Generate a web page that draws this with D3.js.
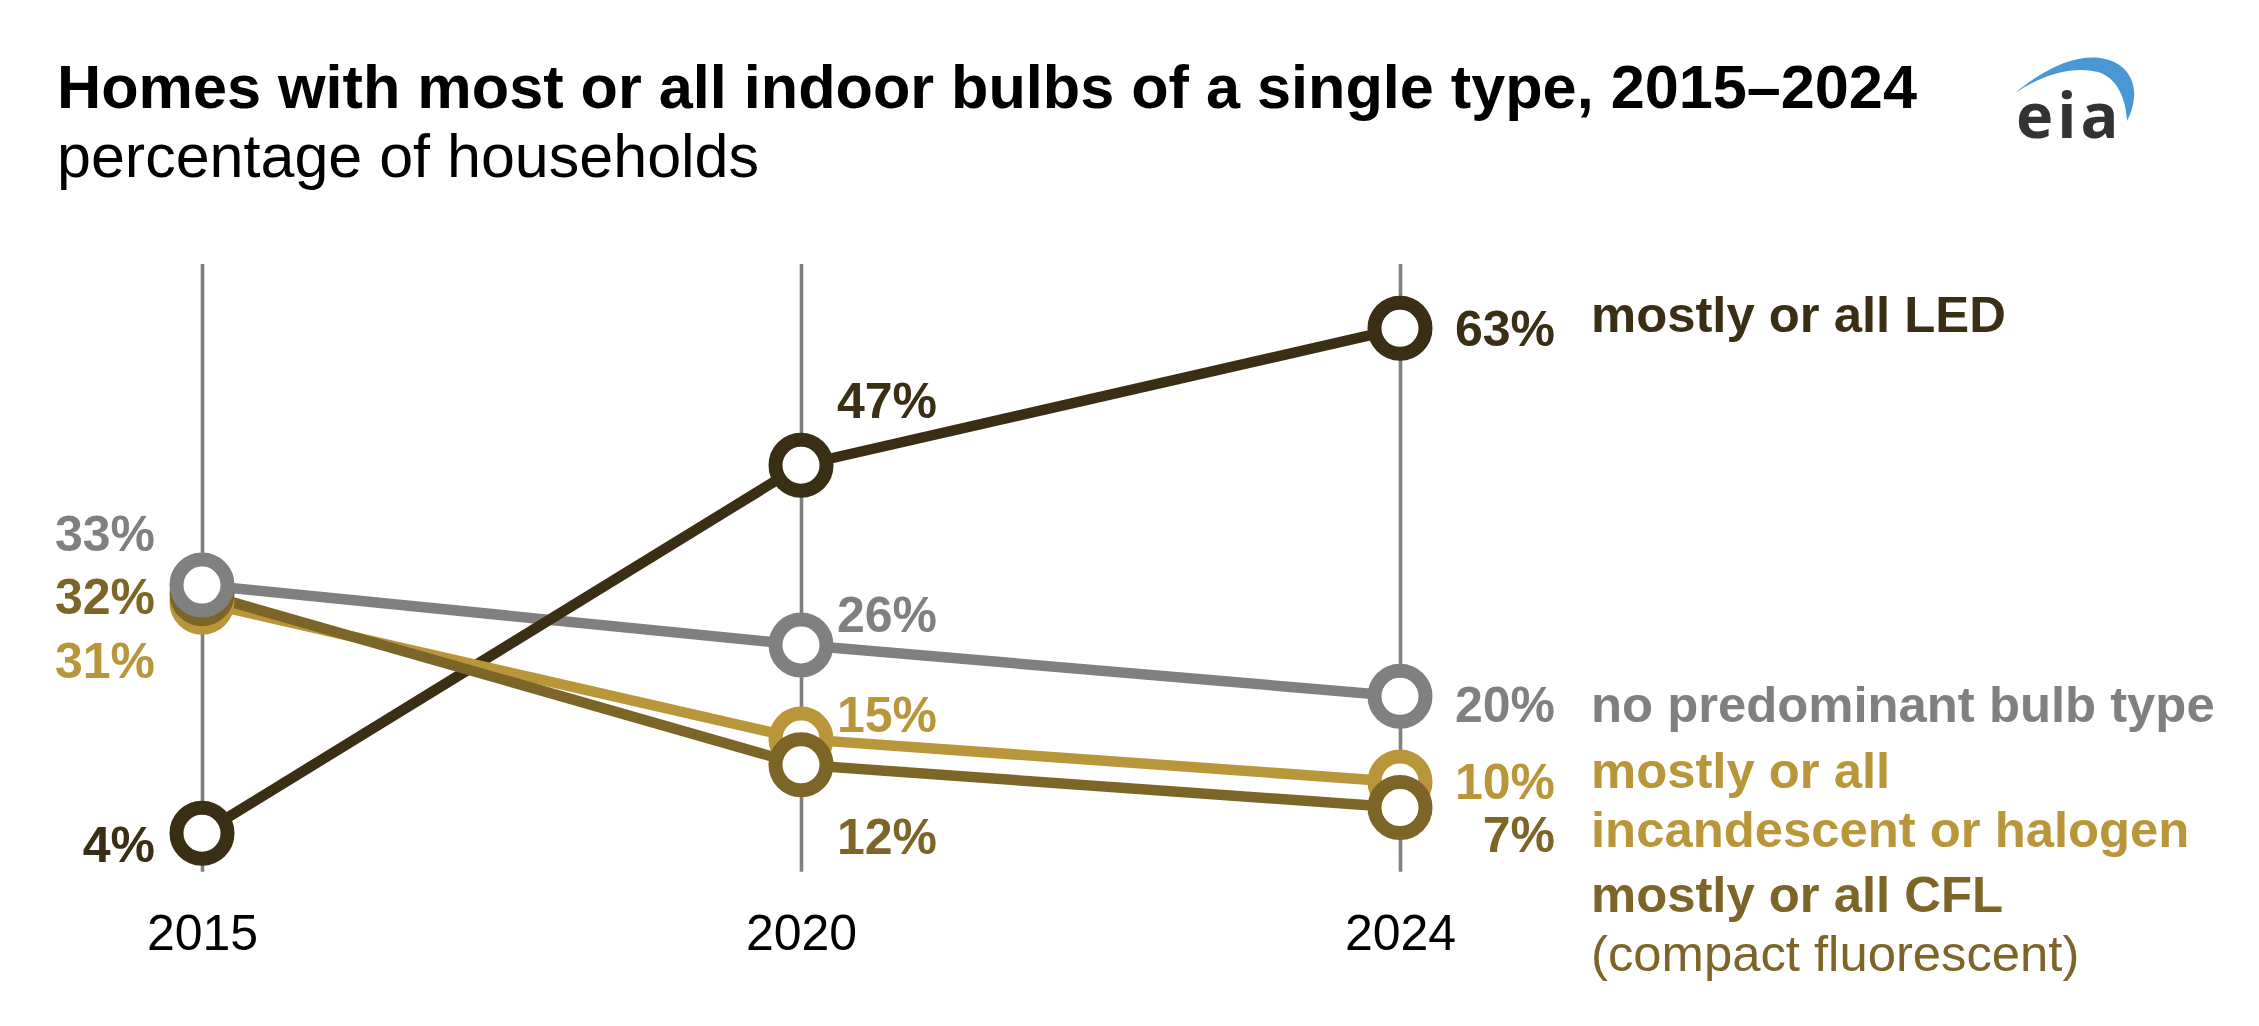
<!DOCTYPE html>
<html>
<head>
<meta charset="utf-8">
<script src="https://cdn.jsdelivr.net/npm/d3@7/dist/d3.min.js"></script>
<style>
    html, body { margin: 0; padding: 0; background: #ffffff; }
    svg { display: block; font-family: "Liberation Sans", Arial, Helvetica, sans-serif; }
</style>
</head>
<body>
<div id="chart"></div>
<script>

// data
const years = ['2015', '2020', '2024'];
const ledValues = [4, 47, 63];
const noPredominantValues = [33, 26, 20];
const incandescentValues = [31, 15, 10];
const cflValues = [32, 12, 7];

const ledLegend = ['mostly or all LED'];
const noPredominantLegend = ['no predominant bulb type'];
const incandescentLegend = ['mostly or all', 'incandescent or halogen'];
const cflLegend = ['mostly or all CFL', '(compact fluorescent)'];

const titleText = 'Homes with most or all indoor bulbs of a single type, 2015\u20132024';
const subtitleText = 'percentage of households';

class BulbTypeChartModel {

    constructor(selector) {

        this.$parent = d3.select(selector);

        this.svgWidth = 2259;
        this.svgHeight = 1026;
        this.fontSize = 50;

        this.series = [
            { key: 'gray', values: noPredominantValues, legend: noPredominantLegend, color: '#808080' },
            { key: 'led', values: ledValues, legend: ledLegend, color: '#3a2e14' },
            { key: 'gold', values: incandescentValues, legend: incandescentLegend, color: '#b9963a' },
            { key: 'cfl', values: cflValues, legend: cflLegend, color: '#7d6427' }
        ];

        // baseline offsets of the value labels from their point, per year
        this.valueLabelOffsets = {
            gray: [-34, -13, 25.5],
            led: [28.5, -47.5, 17.5],
            gold: [76, -7.5, 17],
            cfl: [20, 89.5, 44.5]
        };

        // baseline offsets of legend lines from the last point
        this.legendOffsets = {
            gray: [25.5],
            led: [3.5],
            gold: [6, 65.5],
            cfl: [104.5, 163]
        };

        this.resize();
        this.draw();

    }

    resize() {

        this.xScale = d3.scalePoint()
            .domain(years)
            .range([202, 1400]);

        this.yScale = d3.scaleLinear()
            .domain([0, 70])
            .range([867.5, 268.4]);

        this.gridTop = this.yScale(70.5);
        this.gridBottom = this.yScale(-0.5);

        this.line = d3.line()
            .x((datum, i) => this.xScale(years[i]))
            .y((datum) => this.yScale(datum));

    }

    draw() {

        this.svg = this.$parent.append('svg')
            .attr('width', this.svgWidth)
            .attr('height', this.svgHeight);

        this.svg.append('text')
            .attr('x', 57)
            .attr('y', 108)
            .attr('font-size', 61.2)
            .attr('font-weight', 'bold')
            .attr('fill', '#000')
            .text(titleText);

        this.svg.append('text')
            .attr('x', 57)
            .attr('y', 177)
            .attr('font-size', 61)
            .attr('fill', '#000')
            .text(subtitleText);

        this.drawLogo();

        // year axis doubles as the vertical gridlines
        const xAxisBottom = d3.axisBottom(this.xScale)
            .tickSizeInner(-(this.gridBottom - this.gridTop))
            .tickSizeOuter(0)
            .tickPadding(42.5);

        const axisG = this.svg.append('g')
            .attr('transform', 'translate(0,' + this.gridBottom + ')')
            .call(xAxisBottom);

        axisG.select('.domain').remove();
        axisG.attr('font-family', null).attr('font-size', null);
        axisG.selectAll('.tick line')
            .attr('stroke', '#808080')
            .attr('stroke-width', 3.6);
        axisG.selectAll('.tick text')
            .attr('font-size', this.fontSize)
            .attr('fill', '#000');

        const linesG = this.svg.append('g');

        linesG.selectAll('path')
            .data(this.series)
            .join('path')
            .attr('d', (datum) => this.line(datum.values))
            .attr('fill', 'none')
            .attr('stroke', (datum) => datum.color)
            .attr('stroke-width', 10.5)
            .attr('stroke-linejoin', 'round');

        // circle stacking: gray on top, CFL above incandescent
        const circleOrder = ['led', 'gold', 'cfl', 'gray'];
        const pointsG = this.svg.append('g');

        circleOrder.forEach((key) => {

            const s = this.series.find((datum) => datum.key === key);

            pointsG.append('g')
                .selectAll('circle')
                .data(s.values)
                .join('circle')
                .attr('cx', (datum, i) => this.xScale(years[i]))
                .attr('cy', (datum) => this.yScale(datum))
                .attr('r', 25.5)
                .attr('fill', '#ffffff')
                .attr('stroke', s.color)
                .attr('stroke-width', 14);

        });

        const labelsG = this.svg.append('g')
            .attr('font-size', this.fontSize)
            .attr('font-weight', 'bold');

        const anchors = ['end', 'start', 'end'];
        const dxs = [-47, 36, 155];

        this.series.forEach((s) => {

            labelsG.append('g')
                .attr('fill', s.color)
                .selectAll('text')
                .data(s.values)
                .join('text')
                .attr('x', (datum, i) => this.xScale(years[i]) + dxs[i])
                .attr('y', (datum, i) => this.yScale(datum) + this.valueLabelOffsets[s.key][i])
                .attr('text-anchor', (datum, i) => anchors[i])
                .text((datum) => datum + '%');

            const last = s.values[s.values.length - 1];

            labelsG.append('g')
                .attr('fill', s.color)
                .selectAll('text')
                .data(s.legend)
                .join('text')
                .attr('x', this.xScale(years[years.length - 1]) + 191)
                .attr('y', (datum, i) => this.yScale(last) + this.legendOffsets[s.key][i])
                .attr('font-size', 50.8)
                .attr('font-weight', (datum) => datum.startsWith('(') ? 'normal' : 'bold')
                .text((datum) => datum);

        });

    }

    drawLogo() {

        const logo = this.svg.append('g');

        logo.append('path')
            .attr('d', 'M2015,93 C2045,68 2075,55 2100,58 C2125,61 2136,80 2134,98 C2133,108 2130,115 2127,121 '
                + 'C2126,100 2118,78 2098,72 C2075,66 2045,73 2015,93 Z')
            .attr('fill', '#4a98d3');

        logo.append('text')
            .attr('x', 2016)
            .attr('y', 138)
            .attr('font-family', '"Open Sans", sans-serif')
            .attr('font-weight', 700)
            .attr('font-size', 63)
            .attr('letter-spacing', 4)
            .attr('fill', '#333333')
            .text('eia');

    }

}

new BulbTypeChartModel('#chart');

</script>
</body>
</html>
